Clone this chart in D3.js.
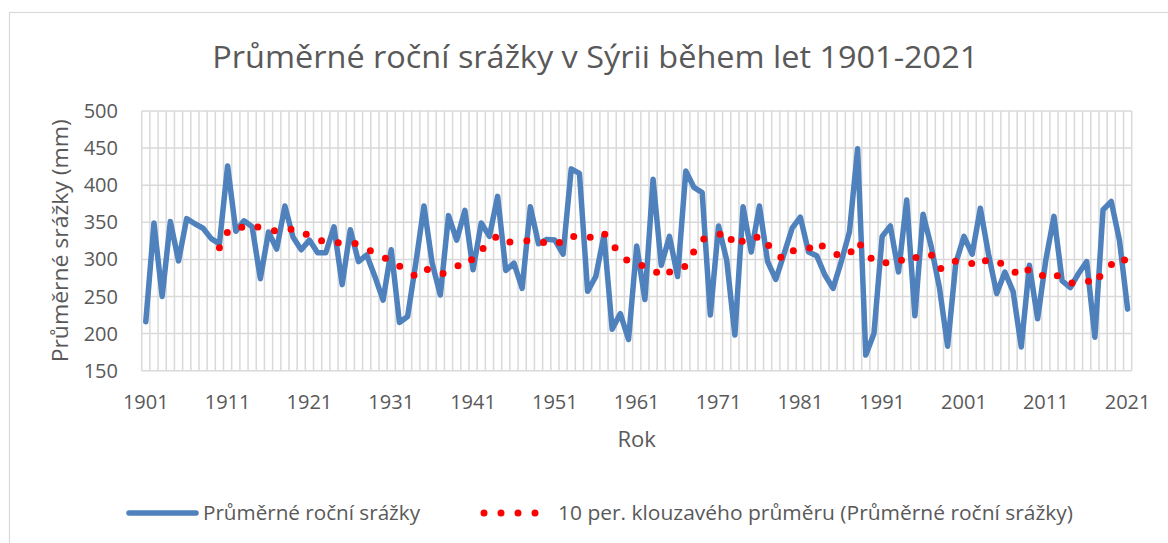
<!DOCTYPE html>
<html>
<head>
<meta charset="utf-8">
<script src="https://cdn.jsdelivr.net/npm/d3@7"></script>
<style>
    body { margin: 0; background: #fff; }
    text { font-family: "Open Sans", "Noto Sans", sans-serif; fill: #595959; }
</style>
</head>
<body>
<div id="chart"></div>
<script>

// roky 1901 - 2021
var years = d3.range(1901, 2022)

// prumerne rocni srazky (mm)
var rainfall = [
    216, 349, 250, 351, 298, 355, 348, 342, 328, 321,
    426, 338, 352, 344, 274, 337, 314, 372, 330, 313,
    326, 309, 309, 344, 266, 340, 297, 306, 277, 245,
    313, 215, 223, 295, 372, 295, 252, 359, 326, 366,
    286, 349, 331, 385, 285, 295, 261, 371, 321, 327,
    326, 307, 422, 416, 257, 277, 333, 206, 227, 192,
    318, 246, 408, 292, 331, 277, 419, 397, 390, 225,
    345, 299, 198, 371, 310, 372, 297, 273, 307, 342,
    357, 310, 305, 279, 261, 297, 337, 449, 171, 200,
    331, 345, 283, 380, 224, 361, 317, 262, 183, 295,
    331, 307, 369, 307, 254, 283, 257, 182, 292, 220,
    299, 358, 271, 262, 281, 297, 195, 367, 378, 326, 233
]

var yTicks = [150, 200, 250, 300, 350, 400, 450, 500]
var xLabels = [1901, 1911, 1921, 1931, 1941, 1951, 1961, 1971, 1981, 1991, 2001, 2011, 2021]

var title = "Průměrné roční srážky v Sýrii během let 1901-2021"
var yTitle = "Průměrné srážky (mm)"
var xTitle = "Rok"
var legendNames = ["Průměrné roční srážky", "10 per. klouzavého průměru (Průměrné roční srážky)"]

var period = 10

var width = 1168, height = 543
var plot = { left: 141.7, right: 1131.7, top: 111, bottom: 370.7 }

var svg = d3.select("#chart").append("svg")
    .attr("width", width)
    .attr("height", height)

// ramecek grafu
svg.append("rect")
    .attr("x", 9.5).attr("y", 12.5)
    .attr("width", 1200).attr("height", 600)
    .attr("fill", "#fff")
    .attr("stroke", "#d9d9d9")
    .attr("stroke-width", 1.2)

var x = d3.scaleBand()
    .domain(years)
    .range([plot.left, plot.right])
    .padding(0)

var y = d3.scaleLinear()
    .domain([150, 500])
    .range([plot.bottom, plot.top])

var cx = d => x(d) + x.bandwidth() / 2

// mrizka
var grid = svg.append("g").attr("stroke", "#d9d9d9").attr("stroke-width", 1.5)

grid.selectAll("line.h")
    .data(yTicks)
    .enter().append("line")
    .attr("class", "h")
    .attr("x1", plot.left).attr("x2", plot.right)
    .attr("y1", d => y(d)).attr("y2", d => y(d))

var edges = years.map(d => x(d)).concat([plot.right])
grid.selectAll("line.v")
    .data(edges)
    .enter().append("line")
    .attr("class", "v")
    .attr("x1", d => d).attr("x2", d => d)
    .attr("y1", plot.top).attr("y2", plot.bottom)

// popisky osy y
svg.append("g").selectAll("text")
    .data(yTicks)
    .enter().append("text")
    .attr("x", 118)
    .attr("y", d => y(d))
    .attr("dy", "0.35em")
    .attr("text-anchor", "end")
    .attr("font-size", 20)
    .text(d => d)

// popisky osy x
svg.append("g").selectAll("text")
    .data(xLabels)
    .enter().append("text")
    .attr("x", d => cx(d))
    .attr("y", 402)
    .attr("dy", "0.35em")
    .attr("text-anchor", "middle")
    .attr("font-size", 20)
    .text(d => d)

function fit(sel, w) {
    sel.attr("textLength", w).attr("lengthAdjust", "spacingAndGlyphs")
}

svg.append("text")
    .attr("x", 595.3).attr("y", 68)
    .attr("text-anchor", "middle")
    .attr("font-size", 31)
    .text(title)
    .call(fit, 766)

svg.append("text")
    .attr("transform", "translate(60," + ((plot.top + plot.bottom) / 2) + ") rotate(-90)")
    .attr("dy", "0.35em")
    .attr("text-anchor", "middle")
    .attr("font-size", 22)
    .text(yTitle)
    .call(fit, 243)

svg.append("text")
    .attr("x", (plot.left + plot.right) / 2).attr("y", 439)
    .attr("dy", "0.35em")
    .attr("text-anchor", "middle")
    .attr("font-size", 22)
    .text(xTitle)

// klouzavy prumer (trendline jako v Excelu)
var ma = years.map((d, i) => i < period - 1 ? null :
    { year: d, value: d3.mean(rainfall.slice(i - period + 1, i + 1)) }).filter(d => d)

var line = d3.line()
    .x(d => cx(d.year))
    .y(d => y(d.value))

svg.append("path")
    .datum(years.map((d, i) => ({ year: d, value: rainfall[i] })))
    .attr("d", line)
    .attr("fill", "none")
    .attr("stroke", "#4f81bd")
    .attr("stroke-width", 5.5)
    .attr("stroke-linejoin", "round")
    .attr("stroke-linecap", "round")

var dotStyle = sel => sel
    .attr("fill", "none")
    .attr("stroke", "#ff0000")
    .attr("stroke-width", 7)
    .attr("stroke-linecap", "round")
    .attr("stroke-dasharray", "0 17")

svg.append("path")
    .datum(ma)
    .attr("d", line)
    .call(dotStyle)

// legenda
var legend = svg.append("g")

legend.append("line")
    .attr("x1", 129).attr("x2", 196)
    .attr("y1", 513).attr("y2", 513)
    .attr("stroke", "#4f81bd")
    .attr("stroke-width", 5.5)
    .attr("stroke-linecap", "round")

legend.append("text")
    .attr("x", 203).attr("y", 513)
    .attr("dy", "0.35em")
    .attr("font-size", 20)
    .text(legendNames[0])
    .call(fit, 217)

legend.append("path")
    .attr("d", "M484,513H536")
    .call(dotStyle)

legend.append("text")
    .attr("x", 558).attr("y", 513)
    .attr("dy", "0.35em")
    .attr("font-size", 20)
    .text(legendNames[1])
    .call(fit, 515)

</script>
</body>
</html>
